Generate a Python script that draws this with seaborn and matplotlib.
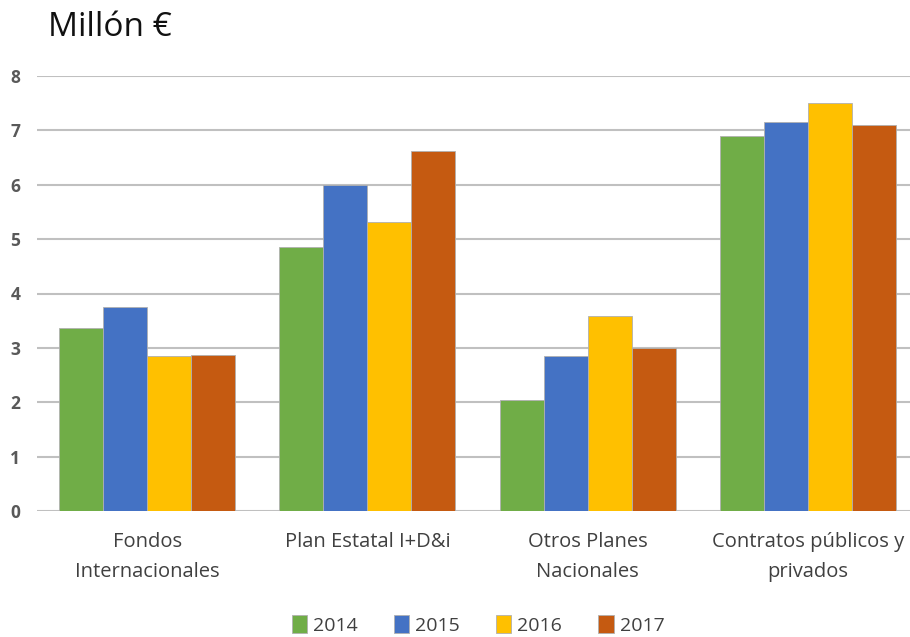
import pandas as pd
import matplotlib.pyplot as plt
import seaborn as sns

# Data (millions of euros)
categories = ["Fondos\nInternacionales", "Plan Estatal I+D&i",
              "Otros Planes\nNacionales", "Contratos públicos y\nprivados"]
years = ["2014", "2015", "2016", "2017"]
v2014 = [3.37, 4.86, 2.05, 6.89]
v2015 = [3.75, 6.00, 2.85, 7.15]
v2016 = [2.85, 5.31, 3.59, 7.50]
v2017 = [2.86, 6.62, 3.00, 7.09]

series = {"2014": v2014, "2015": v2015, "2016": v2016, "2017": v2017}
rows = []
for yr in years:
    for cat, val in zip(categories, series[yr]):
        rows.append({"Categoria": cat, "Año": yr, "Valor": val})
df = pd.DataFrame(rows)

colors = ["#70ad47", "#4472c4", "#ffc000", "#c55a11"]

sns.set_style("white")
plt.rcParams["font.family"] = ["Open Sans", "DejaVu Sans"]

fig = plt.figure(figsize=(9.1, 6.37), dpi=100)
ax = fig.add_axes([37 / 910, 126 / 637, 881 / 910, 435 / 637])

sns.barplot(data=df, x="Categoria", y="Valor", hue="Año", palette=colors,
            saturation=1, width=0.8, edgecolor="#b0b0b0", linewidth=0.6,
            ax=ax, zorder=3)

ax.set_ylim(0, 8)
ax.set_yticks(range(0, 9))
ax.yaxis.grid(True, color="#c0c0c0", linewidth=1.5, zorder=0)
ax.set_axisbelow(True)
for s in ax.spines.values():
    s.set_visible(False)
ax.set_xlabel("")
ax.set_ylabel("")
ax.tick_params(axis="y", length=0, pad=12, labelsize=12.5, labelcolor="#595959")
ax.tick_params(axis="x", length=0, pad=15, labelsize=14.5, labelcolor="#404040")
for lbl in ax.get_yticklabels():
    lbl.set_fontweight("bold")
for lbl in ax.get_xticklabels():
    lbl.set_linespacing(1.65)

fig.text(48 / 910, 1 - 28 / 637, "Millón €", fontsize=24, va="center", ha="left",
         color="#111111")

ax.legend(loc="center", bbox_to_anchor=(478 / 910, 1 - 625 / 637),
          bbox_transform=fig.transFigure, ncol=4, frameon=False,
          fontsize=14, handlelength=0.8, handleheight=1.0, handletextpad=0.3,
          columnspacing=1.85, labelcolor="#404040")

fig.savefig("out.png", dpi=100)
